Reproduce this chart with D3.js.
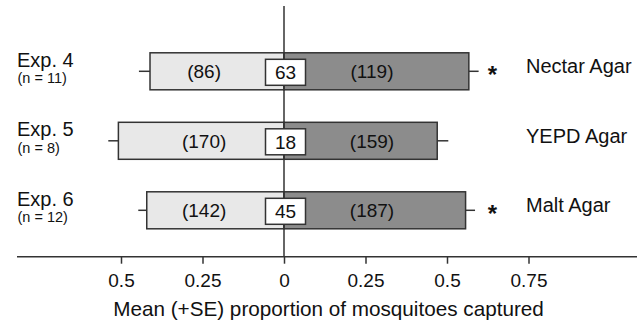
<!DOCTYPE html>
<html>
<head>
<meta charset="utf-8">
<script src="https://cdn.jsdelivr.net/npm/d3@7"></script>
<style>
  html, body { margin: 0; padding: 0; background: #fff; }
  svg { display: block; font-family: "Liberation Sans", Arial, sans-serif; }
</style>
</head>
<body>
<svg id="chart" width="642" height="323"></svg>
<script>
// ---- data ----
const experiments   = ["Exp. 4", "Exp. 5", "Exp. 6"];
const sampleSizes   = [11, 8, 12];
const treatments    = ["Nectar Agar", "YEPD Agar", "Malt Agar"];
const controlMean   = [0.411, 0.508, 0.421];
const controlSE     = [0.034, 0.031, 0.026];
const treatMean     = [0.567, 0.470, 0.557];
const treatSE       = [0.030, 0.034, 0.029];
const controlCounts = [86, 170, 142];
const treatCounts   = [119, 159, 187];
const noChoice      = [63, 18, 45];
const significant   = [true, false, true];
const tickValues    = [-0.5, -0.25, 0, 0.25, 0.5, 0.75];
const tickLabels    = ["0.5", "0.25", "0", "0.25", "0.5", "0.75"];
const axisTitle     = "Mean (+SE) proportion of mosquitoes captured";

// ---- layout ----
const svg = d3.select("#chart");
const x = d3.scaleLinear().domain([-0.5, 0.75]).range([121, 528.5]);
const y = d3.scalePoint().domain(experiments).range([71.3, 210.3]);
const barH = 37;
const axisY = 256.7;
const stroke = "#333";

const rows = experiments.map((e, i) => ({
  exp: e, n: sampleSizes[i], trt: treatments[i],
  cm: controlMean[i], cse: controlSE[i], tm: treatMean[i], tse: treatSE[i],
  cc: controlCounts[i], tc: treatCounts[i], nc: noChoice[i], sig: significant[i]
}));

// whiskers
const g = svg.append("g");
rows.forEach(d => {
  const cy = y(d.exp);
  g.append("line").attr("x1", x(-d.cm)).attr("x2", x(-(d.cm + d.cse)))
    .attr("y1", cy).attr("y2", cy).attr("stroke", stroke).attr("stroke-width", 1.5);
  g.append("line").attr("x1", x(d.tm)).attr("x2", x(d.tm + d.tse))
    .attr("y1", cy).attr("y2", cy).attr("stroke", stroke).attr("stroke-width", 1.5);
});

// bars
g.selectAll("rect.ctrl").data(rows).join("rect").attr("class", "ctrl")
  .attr("x", d => x(-d.cm)).attr("width", d => x(0) - x(-d.cm))
  .attr("y", d => y(d.exp) - barH / 2).attr("height", barH)
  .attr("fill", "#e8e8e8").attr("stroke", stroke).attr("stroke-width", 1.5);
g.selectAll("rect.trt").data(rows).join("rect").attr("class", "trt")
  .attr("x", x(0)).attr("width", d => x(d.tm) - x(0))
  .attr("y", d => y(d.exp) - barH / 2).attr("height", barH)
  .attr("fill", "#8c8c8c").attr("stroke", stroke).attr("stroke-width", 1.5);

// zero line (under the no-choice boxes)
g.append("line").attr("x1", x(0)).attr("x2", x(0)).attr("y1", 6).attr("y2", axisY)
  .attr("stroke", stroke).attr("stroke-width", 1.5);

// count labels
g.selectAll("text.cc").data(rows).join("text").attr("class", "cc")
  .attr("x", x(-0.245)).attr("y", d => y(d.exp) + 7)
  .attr("text-anchor", "middle").attr("font-size", 19).attr("fill", "#111")
  .text(d => `(${d.cc})`);
g.selectAll("text.tc").data(rows).join("text").attr("class", "tc")
  .attr("x", x(0.27)).attr("y", d => y(d.exp) + 7)
  .attr("text-anchor", "middle").attr("font-size", 19).attr("fill", "#111")
  .text(d => `(${d.tc})`);

// no-choice boxes
const bw = 40, bh = 26;
g.selectAll("rect.nc").data(rows).join("rect").attr("class", "nc")
  .attr("x", x(0) + 1.5 - bw / 2).attr("width", bw)
  .attr("y", d => y(d.exp) + 1 - bh / 2).attr("height", bh)
  .attr("fill", "#fff").attr("stroke", stroke).attr("stroke-width", 1.5);
g.selectAll("text.nc").data(rows).join("text").attr("class", "nc")
  .attr("x", x(0) + 1.5).attr("y", d => y(d.exp) + 8)
  .attr("text-anchor", "middle").attr("font-size", 19).attr("fill", "#111")
  .text(d => d.nc);

// significance stars
g.selectAll("text.sig").data(rows.filter(d => d.sig)).join("text").attr("class", "sig")
  .attr("x", 492.5).attr("y", d => y(d.exp) + 12)
  .attr("text-anchor", "middle").attr("font-size", 24).attr("font-weight", "bold")
  .attr("fill", "#111")
  .text("*");

// treatment labels
g.selectAll("text.trtl").data(rows).join("text").attr("class", "trtl")
  .attr("x", 526).attr("y", d => y(d.exp) + 2)
  .attr("font-size", 20).attr("fill", "#111")
  .text(d => d.trt);

// experiment labels
g.selectAll("text.exp").data(rows).join("text").attr("class", "exp")
  .attr("x", 17).attr("y", d => y(d.exp) - 4.5)
  .attr("font-size", 20).attr("fill", "#111")
  .text(d => d.exp);
g.selectAll("text.n").data(rows).join("text").attr("class", "n")
  .attr("x", 17.5).attr("y", d => y(d.exp) + 12)
  .attr("font-size", 14.5).attr("fill", "#111")
  .text(d => `(n = ${d.n})`);

// x axis
const axis = d3.axisBottom(x).tickValues(tickValues)
  .tickFormat((d, i) => tickLabels[i]).tickSize(7).tickSizeOuter(0);
const ag = svg.append("g").attr("transform", `translate(0,${axisY})`).call(axis);
ag.select(".domain").remove();
ag.append("line").attr("x1", 17).attr("x2", 637).attr("y1", 0).attr("y2", 0)
  .attr("stroke", stroke).attr("stroke-width", 1.5);
ag.selectAll(".tick line").attr("stroke", stroke).attr("stroke-width", 1.5);
ag.selectAll(".tick text").attr("font-size", 19).attr("fill", "#111")
  .attr("font-family", "Liberation Sans, Arial, sans-serif").attr("dy", "0").attr("y", 30.5);

svg.append("text").attr("x", 328.5).attr("y", 316)
  .attr("text-anchor", "middle").attr("font-size", 20.7).attr("fill", "#111")
  .text(axisTitle);
</script>
</body>
</html>
